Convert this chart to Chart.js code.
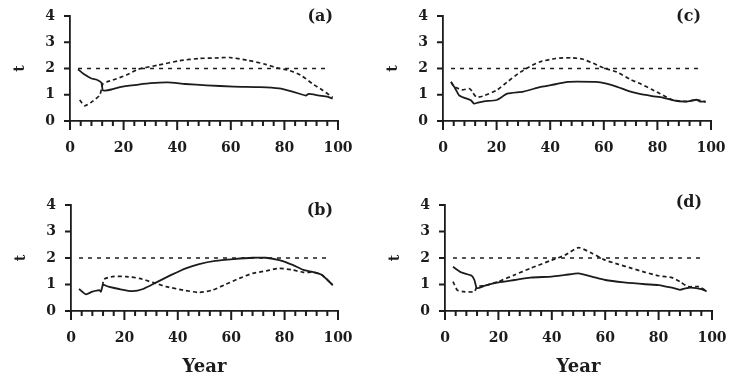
<!DOCTYPE html>
<html>
<head>
<meta charset="utf-8">
<script src="https://cdn.jsdelivr.net/npm/chart.js@4.4.0/dist/chart.umd.min.js"></script>
<style>
  html, body { margin: 0; padding: 0; background: #fff; }
  #wrap { position: relative; width: 729px; height: 378px; overflow: hidden; }
  .panel { position: absolute; }
</style>
</head>
<body>
<div id="wrap">
  <div class="panel" id="pa"><canvas id="ca"></canvas></div>
  <div class="panel" id="pb"><canvas id="cb"></canvas></div>
  <div class="panel" id="pc"><canvas id="cc"></canvas></div>
  <div class="panel" id="pd"><canvas id="cd"></canvas></div>
</div>
<script>
// ---- datos ----
const xTicks = [0, 20, 40, 60, 80, 100];
const xMinorStep = 4;
const yTicks = [0, 1, 2, 3, 4];
const limitYears = [3, 97];
const limitValues = [2, 2];

// (a)
const aSolidYears = [3, 5, 8, 10, 11.7, 12.2, 13, 15.4, 19, 25, 30, 36.5, 43, 51, 61, 71, 78, 83, 88, 89, 93, 96, 98];
const aSolid = [1.97, 1.80, 1.62, 1.57, 1.46, 1.18, 1.16, 1.20, 1.30, 1.38, 1.44, 1.47, 1.41, 1.36, 1.31, 1.29, 1.24, 1.12, 0.97, 1.03, 0.97, 0.93, 0.85];
const aDashYears = [3.6, 5.5, 8, 11.1, 12.3, 14, 16, 21, 25.4, 33, 41, 48, 54, 59.5, 66, 73, 77, 82, 86, 91, 94, 98];
const aDash = [0.80, 0.58, 0.72, 0.99, 1.43, 1.50, 1.56, 1.75, 1.97, 2.13, 2.30, 2.38, 2.40, 2.42, 2.32, 2.16, 2.03, 1.92, 1.75, 1.38, 1.19, 0.90];

// (b)
const bSolidYears = [3, 5.6, 8, 10.6, 11.2, 12, 14, 18, 23, 27, 32, 38, 43, 48, 54, 61, 68, 73, 78, 83, 87, 91, 94, 98];
const bSolid = [0.83, 0.63, 0.73, 0.79, 0.73, 0.98, 0.92, 0.83, 0.75, 0.83, 1.08, 1.38, 1.61, 1.77, 1.89, 1.96, 2.01, 2.01, 1.92, 1.74, 1.55, 1.46, 1.36, 0.98];
const bDashYears = [11.8, 12.4, 15.6, 20.6, 25.6, 30.6, 35.6, 42, 48, 53, 58, 63, 68, 73, 78, 83, 87, 91, 94, 98];
const bDash = [0.95, 1.20, 1.30, 1.30, 1.23, 1.08, 0.92, 0.79, 0.70, 0.79, 1.01, 1.23, 1.42, 1.51, 1.61, 1.55, 1.46, 1.46, 1.36, 0.98];

// (c)
const cSolidYears = [3, 4.6, 6, 8, 10.4, 11.6, 13, 15.3, 20, 24, 30, 36.5, 42, 46.5, 50, 57, 61, 65, 69, 73, 78, 82, 86, 90, 92, 94.6, 96, 98];
const cSolid = [1.49, 1.23, 0.98, 0.88, 0.79, 0.66, 0.70, 0.75, 0.80, 1.04, 1.12, 1.30, 1.40, 1.49, 1.50, 1.49, 1.42, 1.30, 1.15, 1.04, 0.95, 0.89, 0.79, 0.74, 0.76, 0.81, 0.74, 0.75];
const cDashYears = [3, 4, 7, 10, 11, 12.5, 15, 20, 24, 28, 32, 36, 42, 48, 52, 56, 60, 65, 70, 74, 78, 81, 86, 91, 94.6, 98];
const cDash = [1.49, 1.32, 1.19, 1.23, 1.10, 0.91, 0.95, 1.17, 1.49, 1.80, 2.05, 2.25, 2.38, 2.41, 2.36, 2.20, 2.02, 1.86, 1.58, 1.40, 1.20, 1.04, 0.79, 0.75, 0.81, 0.72];

// (d)
const dSolidYears = [3, 6, 10, 11, 12, 15, 20, 26, 32, 40, 45, 50, 55, 60, 67, 75, 80, 85, 88, 90, 92, 96, 98];
const dSolid = [1.67, 1.46, 1.33, 1.17, 0.86, 0.96, 1.08, 1.17, 1.26, 1.30, 1.36, 1.42, 1.30, 1.17, 1.08, 1.01, 0.98, 0.88, 0.80, 0.85, 0.88, 0.83, 0.74];
const dDashYears = [3, 4.6, 7, 11, 12, 15, 20, 26, 32, 40, 45, 50, 55, 60, 65, 70, 75, 80, 85, 88, 91, 95, 98];
const dDash = [1.11, 0.79, 0.73, 0.73, 0.92, 0.96, 1.11, 1.36, 1.61, 1.92, 2.11, 2.39, 2.18, 1.92, 1.76, 1.61, 1.46, 1.33, 1.26, 1.11, 0.92, 0.92, 0.75];

// ---- estilo ----
const INK = '#1c1c1c';
const SERIF = "'DejaVu Serif', 'Liberation Serif', serif";

const pts = (xs, ys) => xs.map((x, i) => ({ x, y: ys[i] }));

// marcas de los ejes (menores cada 4 años, mayores cada 20) y etiqueta (a), (b)...
const panelDecor = {
  id: 'panelDecor',
  afterDraw(chart, args, opts) {
    const { ctx, chartArea } = chart;
    const sx = chart.scales.x;
    const sy = chart.scales.y;
    ctx.save();
    ctx.fillStyle = INK;
    for (let v = 0; v <= 100; v += xMinorStep) {
      const px = sx.getPixelForValue(v);
      const len = xTicks.includes(v) ? 9 : 5;
      ctx.fillRect(px - 1, chartArea.bottom, 2, len);
    }
    yTicks.forEach(v => {
      const py = sy.getPixelForValue(v);
      ctx.fillRect(chartArea.left - 6, py - 1, 6, 2);
    });
    ctx.font = 'bold 16px ' + SERIF;
    ctx.textAlign = 'right';
    ctx.textBaseline = 'middle';
    ctx.fillText(opts.text, chartArea.right - opts.dx, chartArea.top + opts.dy);
    ctx.restore();
  }
};

function makePanel(canvasId, box, tag, solidXs, solidYs, dashXs, dashYs, showYear) {
  const holder = document.getElementById(canvasId).parentNode;
  holder.style.left = box.left + 'px';
  holder.style.top = box.top + 'px';
  holder.style.width = box.width + 'px';
  holder.style.height = box.height + 'px';

  return new Chart(document.getElementById(canvasId), {
    type: 'line',
    data: {
      datasets: [
        {
          data: pts(limitYears, limitValues),
          borderColor: INK,
          borderWidth: 1.6,
          borderDash: [4, 5],
          pointRadius: 0
        },
        {
          data: pts(dashXs, dashYs),
          borderColor: INK,
          borderWidth: 1.7,
          borderDash: [4, 3],
          pointRadius: 0,
          tension: 0.2
        },
        {
          data: pts(solidXs, solidYs),
          borderColor: INK,
          borderWidth: 1.8,
          pointRadius: 0,
          tension: 0.2
        }
      ]
    },
    options: {
      responsive: true,
      maintainAspectRatio: false,
      animation: false,
      layout: { padding: { top: 16, right: box.padRight, left: 0, bottom: 0 } },
      plugins: {
        legend: { display: false },
        tooltip: { enabled: false },
        panelDecor: { text: tag, dx: box.tagDx, dy: box.tagDy }
      },
      scales: {
        x: {
          type: 'linear',
          min: 0,
          max: 100,
          afterFit: s => {
            s.height = box.xHeight;
            s.paddingLeft = 0;
            s.paddingRight = 0;
          },
          border: { display: true, color: INK, width: 1.8 },
          grid: { display: false, drawTicks: false },
          ticks: {
            stepSize: 20,
            maxRotation: 0,
            padding: 19,
            color: INK,
            font: { family: SERIF, size: 14, weight: 'bold' }
          },
          title: {
            display: showYear,
            text: 'Year',
            color: INK,
            font: { family: SERIF, size: 18, weight: 'bold' },
            padding: { top: 0, bottom: 0 }
          }
        },
        y: {
          min: 0,
          max: 4,
          afterFit: s => {
            s.width = 70;
            s.paddingTop = 0;
            s.paddingBottom = 0;
          },
          border: { display: true, color: INK, width: 1.8 },
          grid: { display: false, drawTicks: false },
          ticks: {
            stepSize: 1,
            padding: 15,
            color: INK,
            font: { family: SERIF, size: 14, weight: 'bold' }
          },
          title: {
            display: true,
            text: 't',
            color: INK,
            font: { family: SERIF, size: 14, weight: 'bold' },
            padding: { top: 12, bottom: 0 }
          }
        }
      }
    },
    plugins: [panelDecor]
  });
}

makePanel('ca', { left: 0, top: 0, width: 364, height: 160, padRight: 26, xHeight: 39, tagDx: 5, tagDy: 1 },
  '(a)', aSolidYears, aSolid, aDashYears, aDash, false);
makePanel('cc', { left: 373, top: 0, width: 356, height: 160, padRight: 18, xHeight: 39, tagDx: 10, tagDy: 1 },
  '(c)', cSolidYears, cSolid, cDashYears, cDash, false);
makePanel('cb', { left: 1, top: 189, width: 363, height: 189, padRight: 26, xHeight: 67, tagDx: 5, tagDy: 6 },
  '(b)', bSolidYears, bSolid, bDashYears, bDash, true);
makePanel('cd', { left: 375, top: 189, width: 354, height: 189, padRight: 17, xHeight: 67, tagDx: 10, tagDy: -2 },
  '(d)', dSolidYears, dSolid, dDashYears, dDash, true);
</script>
</body>
</html>
